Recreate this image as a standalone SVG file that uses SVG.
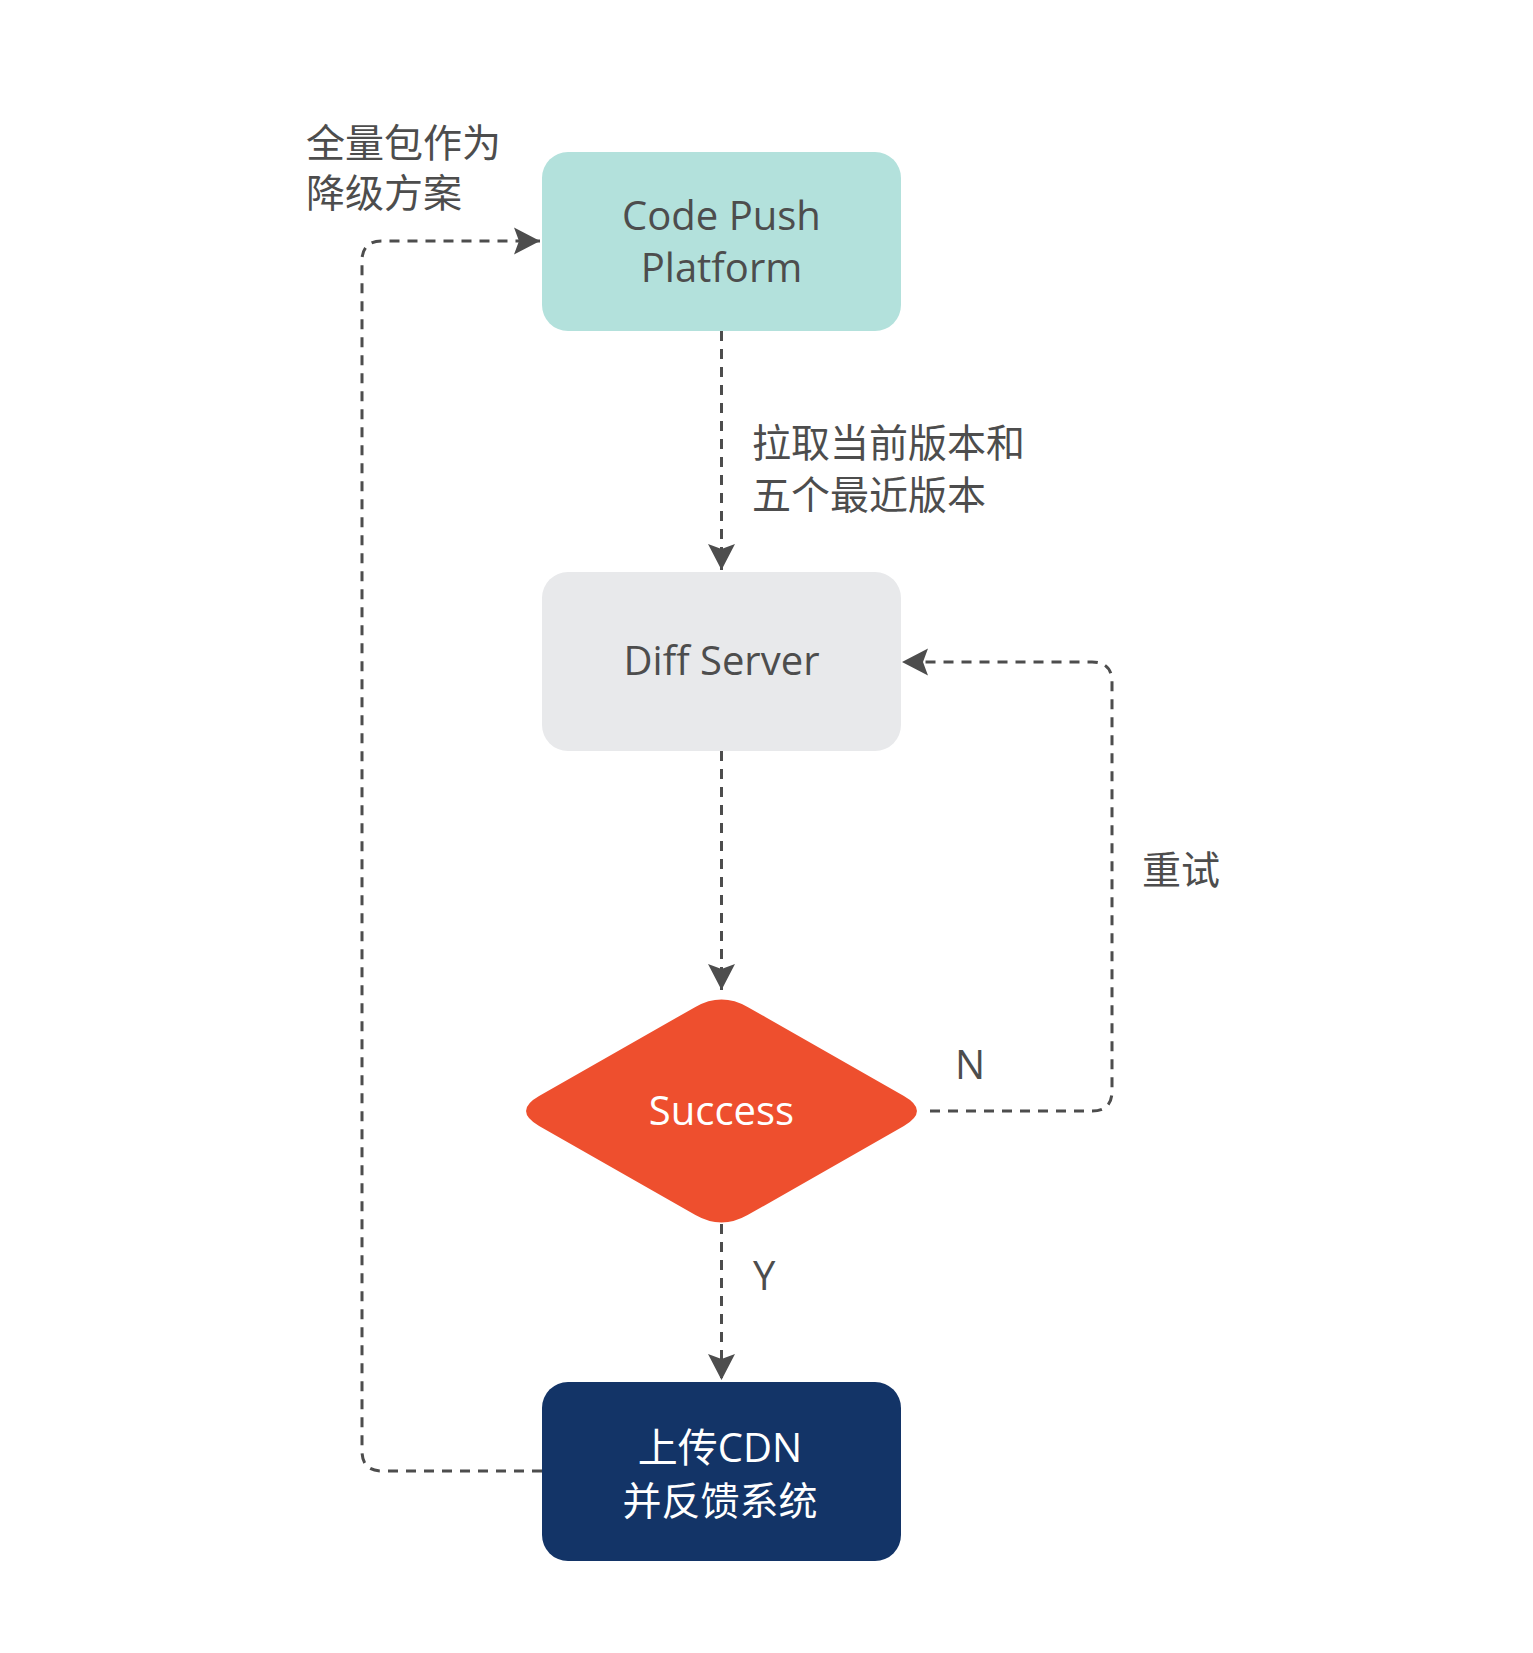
<svg xmlns="http://www.w3.org/2000/svg" width="1533" height="1653" viewBox="0 0 1533 1653">
<style>
  .lbl { font-family: "Open Sans", "Noto Sans CJK SC", sans-serif; font-size: 40px; fill: #4d4d4d; }
  .cjk { font-size: 39px; }
  .ctr { text-anchor: middle; }
  .wht { fill: #ffffff; }
  .conn { fill: none; stroke: #4d4d4d; stroke-width: 3; stroke-dasharray: 10 8; }
</style>
<defs>
  <marker id="arrow" markerUnits="userSpaceOnUse" viewBox="-27 -14 28 28" refX="0" refY="0" markerWidth="28" markerHeight="28" orient="auto">
    <path d="M0,0 L-26,-13.5 L-21,0 L-26,13.5 Z" fill="#4d4d4d"/>
  </marker>
</defs>
<rect width="1533" height="1653" fill="#ffffff"/>

<g id="connectors">
  <path class="conn" d="M721.5,331 L721.5,570" marker-end="url(#arrow)"/>
  <path class="conn" d="M721.5,751 L721.5,990" marker-end="url(#arrow)"/>
  <path class="conn" d="M721.5,1224 L721.5,1380" marker-end="url(#arrow)"/>
  <path class="conn" d="M930,1111 L1092,1111 Q1112,1111 1112,1091 L1112,682 Q1112,662 1092,662 L902,662" marker-end="url(#arrow)"/>
  <path class="conn" d="M542,1471 L382,1471 Q362,1471 362,1451 L362,261 Q362,241 382,241 L540,241" marker-end="url(#arrow)"/>
</g>

<g id="node-platform">
  <rect x="542" y="152" width="359" height="179" rx="26" fill="#b3e1dc"/>
  <text class="lbl ctr" x="721.5" y="230">Code Push</text>
  <text class="lbl ctr" x="721.5" y="282">Platform</text>
</g>

<g id="node-diff">
  <rect x="542" y="572" width="359" height="179" rx="26" fill="#e8e9eb"/>
  <text class="lbl ctr" x="721.5" y="675">Diff Server</text>
</g>

<g id="node-success">
  <path d="M695.4,1006.9 Q721.5,992 747.6,1006.9 L903.9,1096.1 Q930,1111 903.9,1125.9 L747.6,1215.1 Q721.5,1230 695.4,1215.1 L539.1,1125.9 Q513,1111 539.1,1096.1 Z" fill="#ee4f2e"/>
  <text class="lbl ctr wht" x="721.5" y="1125">Success</text>
</g>

<g id="node-cdn">
  <rect x="542" y="1382" width="359" height="179" rx="26" fill="#133467"/>
  <text class="lbl ctr wht" x="720" y="1462">上传CDN</text>
  <text class="lbl cjk ctr wht" x="720" y="1515">并反馈系统</text>
</g>

<g id="labels">
  <text class="lbl cjk" x="306" y="157">全量包作为</text>
  <text class="lbl cjk" x="306" y="207">降级方案</text>
  <text class="lbl cjk" x="752" y="457">拉取当前版本和</text>
  <text class="lbl cjk" x="752" y="509">五个最近版本</text>
  <text class="lbl cjk" x="1142" y="884">重试</text>
  <text class="lbl" x="955" y="1079">N</text>
  <text class="lbl" x="753" y="1290">Y</text>
</g>
</svg>
